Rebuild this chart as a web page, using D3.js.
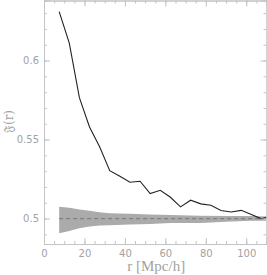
<!DOCTYPE html>
<html>
<head>
<meta charset="utf-8">
<script src="https://cdn.jsdelivr.net/npm/d3@7"></script>
<style>
  body { margin: 0; background: #fff; }
  svg { display: block; }
  .axis path, .axis line { stroke: #c4c4c4; }
  .axis text { fill: #a2a2a2; font-family: "DejaVu Sans", sans-serif; font-size: 10px; }
</style>
</head>
<body>
<div id="chart"></div>
<script>
// measured curve, r in Mpc/h
const rVals = [7.5, 12.5, 17.5, 22.5, 27.5, 32.5, 37.5, 42.5, 47.5, 52.5, 57.5,
               62.5, 67.5, 72.5, 77.5, 82.5, 87.5, 92.5, 97.5, 102.5, 107.5, 112.5];
const fVals = [0.631, 0.611, 0.5765, 0.558, 0.5455, 0.5303, 0.5268, 0.523, 0.5236, 0.5158, 0.5179,
               0.5135, 0.5074, 0.5116, 0.5093, 0.5084, 0.5051, 0.5042, 0.5052, 0.5025, 0.4998, 0.5018];

// random-catalogue band
const bandR     = [7.5, 12.5, 17.5, 22.5, 27.5, 32.5, 42.5, 52.5, 62.5, 77.5, 92.5, 102.5, 112.5];
const bandUpper = [0.5075, 0.5068, 0.5058, 0.505, 0.504, 0.5033, 0.503, 0.5025, 0.5022, 0.5018, 0.5016, 0.5016, 0.5013];
const bandLower = [0.4907, 0.4922, 0.4938, 0.495, 0.4956, 0.4958, 0.4962, 0.4965, 0.4972, 0.4972, 0.4982, 0.4986, 0.4987];
const meanLevel = 0.5;

const xMajor = [0, 20, 40, 60, 80, 100];
const yMajor = [0.5, 0.55, 0.6];

const margin = {top: 0.5, right: 0.5, bottom: 31, left: 44},
      width = 267 - margin.left - margin.right,
      height = 275 - margin.top - margin.bottom;

const svg = d3.select("#chart")
    .append("svg")
    .attr("width", 267)
    .attr("height", 275)
    .append("g")
    .attr("transform", `translate(${margin.left}, ${margin.top})`);

const x = d3.scaleLinear().domain([0, 110]).range([0, width]);
const y = d3.scaleLinear().domain([0.4839, 0.638]).range([height, 0]);

svg.append("clipPath").attr("id", "clip")
  .append("rect").attr("width", width).attr("height", height);

const plot = svg.append("g").attr("clip-path", "url(#clip)");

// band
const band = bandR.map((r, i) => ({r: r, lo: bandLower[i], hi: bandUpper[i]}));
plot.append("path")
  .datum(band)
  .attr("fill", "#ababab")
  .attr("d", d3.area()
    .x(d => x(d.r))
    .y0(d => y(d.lo))
    .y1(d => y(d.hi)));

// mean of randoms
plot.append("line")
  .attr("x1", x(bandR[0])).attr("x2", x(110))
  .attr("y1", y(meanLevel)).attr("y2", y(meanLevel))
  .attr("stroke", "#7f7f7f")
  .attr("stroke-width", 1.2)
  .attr("stroke-dasharray", "4,3");

// data curve
const pts = rVals.map((r, i) => ({r: r, f: fVals[i]}));
plot.append("path")
  .datum(pts)
  .attr("fill", "none")
  .attr("stroke", "#222")
  .attr("stroke-width", 1.1)
  .attr("d", d3.line().x(d => x(d.r)).y(d => y(d.f)));

// axes, ticks pointing inward on all four sides
const xMinor = d3.range(0, 111, 5);
const yMinor = d3.range(0.49, 0.635, 0.01);

svg.append("g").attr("class", "axis")
  .attr("transform", `translate(0, ${height})`)
  .call(d3.axisBottom(x).tickValues(xMinor).tickSize(-3).tickFormat(""));
svg.append("g").attr("class", "axis")
  .attr("transform", `translate(0, ${height})`)
  .call(d3.axisBottom(x).tickValues(xMajor).tickSize(-6).tickPadding(6).tickFormat(d3.format("d")));

svg.append("g").attr("class", "axis")
  .call(d3.axisTop(x).tickValues(xMinor).tickSize(-3).tickFormat(""));
svg.append("g").attr("class", "axis")
  .call(d3.axisTop(x).tickValues(xMajor).tickSize(-6).tickFormat(""));

svg.append("g").attr("class", "axis")
  .call(d3.axisLeft(y).tickValues(yMinor).tickSize(-3).tickFormat(""));
svg.append("g").attr("class", "axis")
  .call(d3.axisLeft(y).tickValues(yMajor).tickSize(-6).tickPadding(5).tickFormat(d => d3.format("")(d)));

svg.append("g").attr("class", "axis")
  .attr("transform", `translate(${width}, 0)`)
  .call(d3.axisRight(y).tickValues(yMinor).tickSize(-3).tickFormat(""));
svg.append("g").attr("class", "axis")
  .attr("transform", `translate(${width}, 0)`)
  .call(d3.axisRight(y).tickValues(yMajor).tickSize(-6).tickFormat(""));

// axis titles
svg.append("text")
  .attr("x", x(55) + 1)
  .attr("y", height + 27)
  .attr("text-anchor", "middle")
  .attr("fill", "#a2a2a2")
  .style("font-family", "'Liberation Serif', 'DejaVu Serif', serif")
  .style("font-size", "15px")
  .text("r [Mpc/h]");

svg.append("text")
  .attr("transform", `translate(${-margin.left + 13}, 121) rotate(-90)`)
  .attr("text-anchor", "middle")
  .attr("fill", "#a2a2a2")
  .style("font-family", "'DejaVu Serif', 'Liberation Serif', serif")
  .style("font-size", "12px")
  .text("𝔉(r)");
</script>
</body>
</html>
